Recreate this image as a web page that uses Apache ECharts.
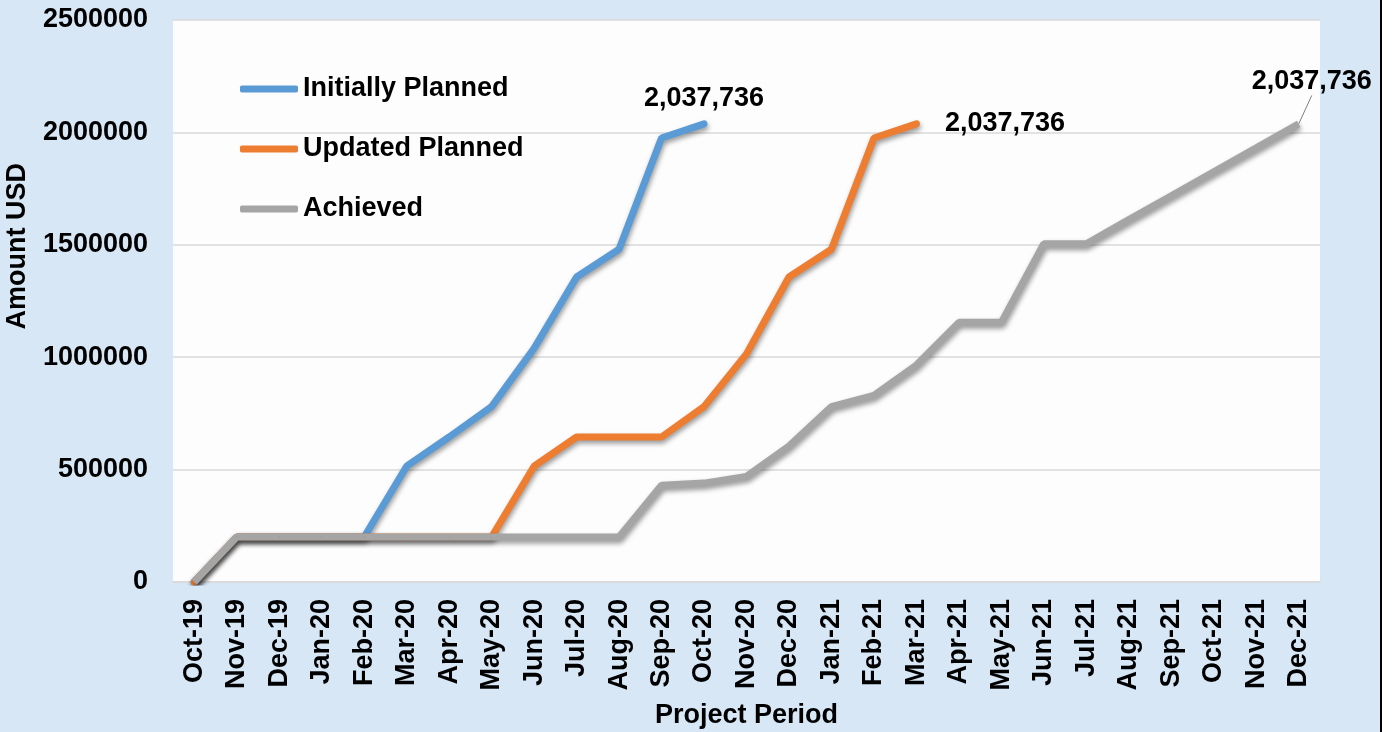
<!DOCTYPE html>
<html>
<head>
<meta charset="utf-8">
<script src="https://cdn.jsdelivr.net/npm/echarts@6/dist/echarts.min.js"></script>
<style>
  html, body { margin: 0; padding: 0; background: #d7e7f6; }
  #main { width: 1393px; height: 732px; }
</style>
</head>
<body>
<div id="main"></div>
<script>
var months = ['Oct-19', 'Nov-19', 'Dec-19', 'Jan-20', 'Feb-20', 'Mar-20', 'Apr-20', 'May-20', 'Jun-20',
  'Jul-20', 'Aug-20', 'Sep-20', 'Oct-20', 'Nov-20', 'Dec-20', 'Jan-21', 'Feb-21', 'Mar-21', 'Apr-21',
  'May-21', 'Jun-21', 'Jul-21', 'Aug-21', 'Sep-21', 'Oct-21', 'Nov-21', 'Dec-21'];

var initiallyPlanned = [0, 200000, 200000, 200000, 200000, 515000, 645000, 780000, 1040000,
  1357000, 1480000, 1975000, 2037736];

var updatedPlanned = [0, 200000, 200000, 200000, 200000, 200000, 200000, 200000, 515000,
  645000, 645000, 645000, 780000, 1015000, 1357000, 1480000, 1975000, 2037736];

var achieved = [0, 200000, 200000, 200000, 200000, 200000, 200000, 200000, 200000,
  200000, 200000, 430000, 440000, 470000, 605000, 780000, 830000, 965000, 1155000,
  1155000, 1505000, 1505000, 1612000, 1718000, 1825000, 1931000, 2037736];

var yTicks = [0, 500000, 1000000, 1500000, 2000000, 2500000];

var FONT = '"Liberation Sans", Arial, sans-serif';

// only the last point of each series carries a label
function withEndLabel(arr, label) {
  return arr.map(function (v, i) {
    if (i === arr.length - 1) {
      return { value: v, label: Object.assign({ show: true }, label) };
    }
    return v;
  });
}

var labelFont = {
  fontFamily: FONT,
  fontSize: 27,
  fontWeight: 'bold',
  color: '#000',
  formatter: function (p) { return echarts.format.addCommas(p.value); }
};

var shadow = {
  shadowColor: 'rgba(0,0,0,0.4)',
  shadowBlur: 5,
  shadowOffsetX: 1,
  shadowOffsetY: 3
};

var chart = echarts.init(document.getElementById('main'));

var option = {
  backgroundColor: '#d7e7f6',
  color: ['#5b9bd5', '#ed7d31', '#a5a5a5'],
  grid: {
    left: 173,
    right: 73,
    top: 20,
    bottom: 150,
    outerBoundsMode: 'none',
    show: true,
    backgroundColor: '#fdfdfd',
    borderWidth: 0
  },
  legend: {
    orient: 'vertical',
    left: 240,
    top: 74,
    padding: 0,
    itemWidth: 58,
    itemHeight: 7,
    itemGap: 30,
    icon: 'roundRect',
    textStyle: {
      fontFamily: FONT,
      fontSize: 27,
      fontWeight: 'bold',
      color: '#000',
      lineHeight: 30
    },
    data: ['Initially Planned', 'Updated Planned', 'Achieved']
  },
  xAxis: {
    type: 'category',
    data: months,
    boundaryGap: true,
    name: 'Project Period',
    nameLocation: 'middle',
    nameGap: 120,
    nameTextStyle: {
      fontFamily: FONT,
      fontSize: 27,
      fontWeight: 'bold',
      color: '#000'
    },
    axisLine: { lineStyle: { color: '#d9d9d9', width: 1.5 } },
    axisTick: { show: false },
    axisLabel: {
      interval: 0,
      rotate: 90,
      margin: 17,
      fontFamily: FONT,
      fontSize: 27,
      fontWeight: 'bold',
      color: '#000'
    }
  },
  yAxis: {
    type: 'value',
    min: yTicks[0],
    max: yTicks[yTicks.length - 1],
    interval: 500000,
    axisLine: { show: false },
    axisTick: { show: false },
    axisLabel: {
      margin: 25,
      fontFamily: FONT,
      fontSize: 27,
      fontWeight: 'bold',
      color: '#000',
      formatter: function (v) { return String(v); }
    },
    splitLine: { lineStyle: { color: '#d9d9d9', width: 1.5 } }
  },
  series: [
    {
      name: 'Initially Planned',
      type: 'line',
      data: withEndLabel(initiallyPlanned, Object.assign({ position: 'top', distance: 11 }, labelFont)),
      symbol: 'circle',
      symbolSize: 1,
      lineStyle: Object.assign({ width: 7, cap: 'round' }, shadow)
    },
    {
      name: 'Updated Planned',
      type: 'line',
      data: withEndLabel(updatedPlanned, Object.assign({ position: 'right', distance: 28 }, labelFont)),
      symbol: 'circle',
      symbolSize: 1,
      lineStyle: Object.assign({ width: 7, cap: 'round' }, shadow)
    },
    {
      name: 'Achieved',
      type: 'line',
      data: withEndLabel(achieved, Object.assign({ position: 'top', distance: 6 }, labelFont)),
      symbol: 'circle',
      symbolSize: 1,
      lineStyle: Object.assign({ width: 7 }, shadow),
      labelLayout: function (p) {
        if (p.dataIndex === achieved.length - 1) {
          return { dx: 13, dy: -22 };
        }
      },
      labelLine: {
        show: true,
        lineStyle: { color: '#808080', width: 1 }
      }
    }
  ],
  graphic: [
    {
      type: 'text',
      left: 4,
      top: 163,
      rotation: Math.PI / 2,
      style: {
        text: 'Amount USD',
        font: 'bold 27px ' + FONT,
        fill: '#000'
      }
    },
    {
      type: 'rect',
      right: 0,
      top: 0,
      shape: { width: 11, height: 732 },
      style: { fill: '#ffffff' }
    },
    {
      type: 'rect',
      right: 11,
      top: 0,
      shape: { width: 2, height: 732 },
      style: { fill: '#000000' }
    }
  ]
};

chart.setOption(option);
</script>
</body>
</html>
